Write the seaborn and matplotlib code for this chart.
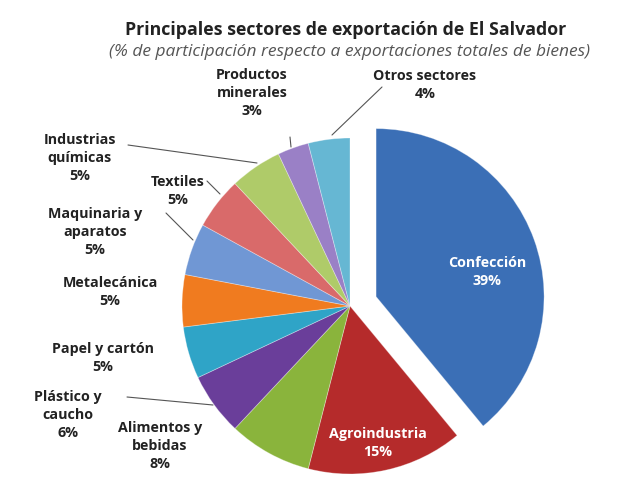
import numpy as np
import matplotlib
matplotlib.use('Agg')
import matplotlib.pyplot as plt
import seaborn as sns

sectores = ['Confección', 'Agroindustria', 'Alimentos y\nbebidas', 'Plástico y\ncaucho',
            'Papel y cartón', 'Metalecánica', 'Maquinaria y\naparatos', 'Textiles',
            'Industrias\nquímicas', 'Productos\nminerales', 'Otros sectores']
porcentajes = [39, 15, 8, 6, 5, 5, 5, 5, 5, 3, 4]
colores = ['#3B6FB6', '#B52B2B', '#8AB43C', '#6A3E9A', '#2FA4C7', '#F07B1F',
           '#7097D4', '#D96A6A', '#AFCB69', '#9A80C6', '#66B7D3']

sns.set_theme(style='white')
plt.rcParams['font.family'] = ['Open Sans', 'DejaVu Sans']

# centro del pastel y radio en pixeles de la imagen
cx, cy, r = 350, 306, 168
W, H = 626, 494

fig = plt.figure(figsize=(W / 100, H / 100), dpi=100)
lim = 1.3
ax = fig.add_axes([(cx - lim * r) / W, (H - cy - lim * r) / H, 2 * lim * r / W, 2 * lim * r / H])

explode = [0.165] + [0] * (len(porcentajes) - 1)
wedges, _ = ax.pie(porcentajes, colors=colores, startangle=90, counterclock=False,
                   explode=explode, radius=1,
                   wedgeprops=dict(linewidth=0.6, edgecolor=(1, 1, 1, 0.35)))
for w in wedges:
    w.set_clip_on(False)
ax.set_xlim(-lim, lim)
ax.set_ylim(-lim, lim)
ax.axis('off')


def px(x, y):
    return (x - cx) / r, (cy - y) / r


# posiciones de las etiquetas (pixeles) y lineas guia
pos_etiquetas = [(487, 272), (378, 443), (160, 446), (68, 415), (103, 358), (110, 292),
                 (95, 232), (178, 191), (80, 158), (252, 93), (425, 85)]
guias = {6: [(166, 213), (193, 240)], 7: [(207, 181), (220, 194)],
         8: [(128, 145), (257, 163)], 9: [(290, 137), (291, 147)],
         3: [(127, 397), (213, 405)], 10: [(382, 87), (332, 135)]}

for i, (nombre, p) in enumerate(zip(sectores, porcentajes)):
    color = 'white' if i < 2 else '#222222'
    x, y = px(*pos_etiquetas[i])
    ax.text(x, y, f'{nombre}\n{p}%', ha='center', va='center', fontsize=10.3,
            fontweight='bold', color=color, linespacing=1.4)
    if i in guias:
        (x0, y0), (x1, y1) = guias[i]
        a, b = px(x0, y0)
        c, d = px(x1, y1)
        ax.plot([a, c], [b, d], color='#555555', lw=0.8, clip_on=False)

fig.text(346 / W, 1 - 30 / H, 'Principales sectores de exportación de El Salvador',
         ha='center', va='center', fontsize=12.8, fontweight='bold', color='#222222')
fig.text(350 / W, 1 - 52 / H, '(% de participación respecto a exportaciones totales de bienes)',
         ha='center', va='center', fontsize=12.5, style='italic', color='#555555')

fig.savefig('out.png', dpi=100, facecolor='white')
